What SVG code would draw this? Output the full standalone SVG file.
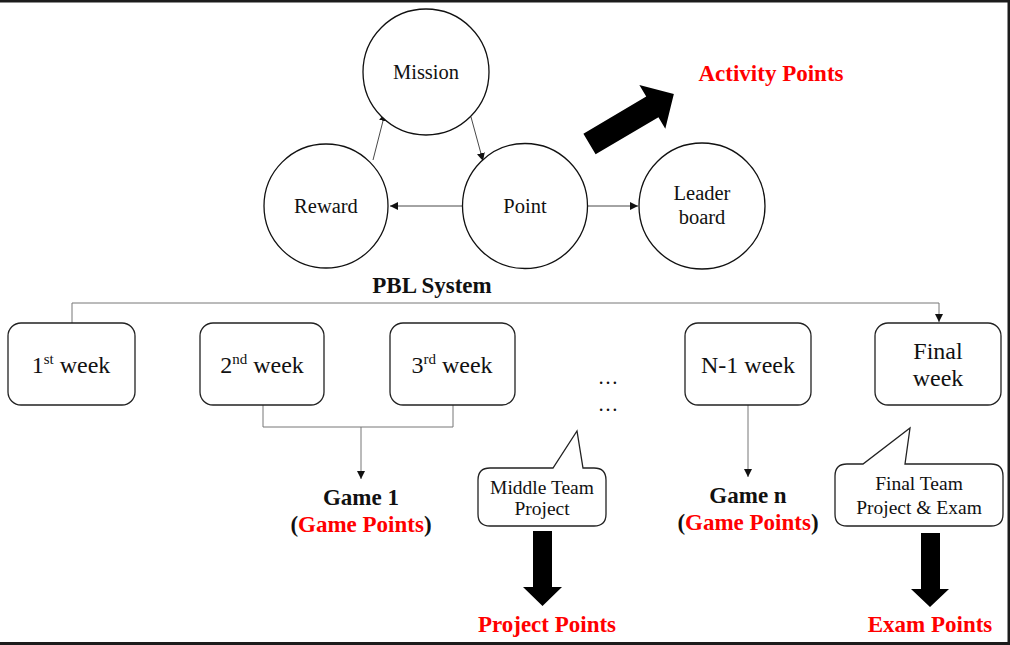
<svg xmlns="http://www.w3.org/2000/svg" width="1010" height="645" viewBox="0 0 1010 645">
<style>
.t{font-family:"Liberation Serif","Times New Roman",serif;fill:#111;text-anchor:middle}
.r{font-size:20.5px}
.w{font-size:24px}
.s{font-size:19.5px}
.b{font-size:23px;font-weight:bold}
.red{fill:#ff0000}
.circ{fill:#fff;stroke:#111;stroke-width:1.3}
.box{fill:#fff;stroke:#222;stroke-width:1.3}
.ln{fill:none;stroke:#333;stroke-width:0.9}
.gl{fill:none;stroke:#777;stroke-width:1}
.big{fill:#000}
</style>
<defs>
<marker id="ah" viewBox="0 0 10 10" refX="10" refY="5" markerWidth="8" markerHeight="8" markerUnits="userSpaceOnUse" orient="auto"><path d="M0,0 L10,5 L0,10 z" fill="#111"/></marker>
</defs>
<rect x="0" y="0" width="1010" height="645" fill="#fff"/>
<rect x="0" y="0" width="1010" height="2.5" fill="#1c1c1c"/>
<rect x="1007.5" y="0" width="2.5" height="645" fill="#1c1c1c"/>
<rect x="0" y="642" width="1010" height="3" fill="#1c1c1c"/>

<g id="connectors">
<line class="ln" x1="373" y1="160" x2="385" y2="113" marker-end="url(#ah)"/>
<line class="ln" x1="471" y1="117" x2="483" y2="161" marker-end="url(#ah)"/>
<line class="ln" x1="463" y1="206" x2="390" y2="206" marker-end="url(#ah)"/>
<line class="ln" x1="588" y1="206" x2="638" y2="206" marker-end="url(#ah)"/>
<polyline class="gl" points="72,324 72,303 939,303 939,322" marker-end="url(#ah)"/>
<polyline class="gl" points="263,405 263,427 453,427 453,405"/>
<line class="gl" x1="361" y1="427" x2="361" y2="479" marker-end="url(#ah)"/>
<line class="gl" x1="748" y1="405" x2="748" y2="477" marker-end="url(#ah)"/>
<polygon class="big" transform="translate(589.5,144) rotate(-30.6)" points="0,-12 73,-12 73,-25.5 98,0 73,25.5 73,12 0,12"/>
<polygon class="big" points="533,531 552,531 552,587 562,587 542.5,606 523,587 533,587"/>
<polygon class="big" points="921,533 940,533 940,589 949,589 930,607 911,589 921,589"/>
</g>

<g id="mission"><circle class="circ" cx="426" cy="72" r="63"/><text class="t r" x="426" y="79">Mission</text></g>
<g id="reward"><circle class="circ" cx="326" cy="206" r="62"/><text class="t r" x="326" y="213">Reward</text></g>
<g id="point"><circle class="circ" cx="525" cy="206" r="62.5"/><text class="t r" x="525" y="213">Point</text></g>
<g id="leaderboard"><circle class="circ" cx="702" cy="206" r="63"/><text class="t r" x="702" y="200">Leader</text><text class="t r" x="702" y="224">board</text></g>

<g id="activity-points"><text class="t b red" x="771" y="81">Activity Points</text></g>
<g id="pbl-system"><text class="t b" x="432" y="293">PBL System</text></g>

<g id="week1"><rect class="box" x="8" y="323" width="127" height="82" rx="13"/><text class="t w" x="71" y="373">1<tspan font-size="15" dy="-9">st</tspan><tspan dy="9"> week</tspan></text></g>
<g id="week2"><rect class="box" x="200" y="323" width="124" height="82" rx="13"/><text class="t w" x="262" y="373">2<tspan font-size="15" dy="-9">nd</tspan><tspan dy="9"> week</tspan></text></g>
<g id="week3"><rect class="box" x="390" y="323" width="125" height="82" rx="13"/><text class="t w" x="452" y="373">3<tspan font-size="15" dy="-9">rd</tspan><tspan dy="9"> week</tspan></text></g>
<g id="dots"><text class="t r" x="608" y="384">…</text><text class="t r" x="608" y="411">…</text></g>
<g id="weekN1"><rect class="box" x="685" y="323" width="126" height="82" rx="13"/><text class="t w" x="748" y="373">N-1 week</text></g>
<g id="final-week"><rect class="box" x="875" y="323" width="126" height="82" rx="13"/><text class="t w" x="938" y="359">Final</text><text class="t w" x="938" y="386">week</text></g>

<g id="game1"><text class="t b" x="361" y="505">Game 1</text><text class="t b" x="361" y="532">(<tspan class="red">Game Points</tspan>)</text></g>
<g id="gamen"><text class="t b" x="748" y="503">Game n</text><text class="t b" x="748" y="530">(<tspan class="red">Game Points</tspan>)</text></g>

<g id="middle-project"><path class="box" d="M490,468 L553,468 L577,431 L583,468 L594,468 Q606,468 606,480 L606,514 Q606,526 594,526 L490,526 Q478,526 478,514 L478,480 Q478,468 490,468 Z"/><text class="t s" x="542" y="494">Middle Team</text><text class="t s" x="542" y="515">Project</text></g>
<g id="final-project"><path class="box" d="M847,464 L863,464 L910,428 L905,464 L991,464 Q1003,464 1003,476 L1003,514 Q1003,526 991,526 L847,526 Q835,526 835,514 L835,476 Q835,464 847,464 Z"/><text class="t s" x="919" y="490">Final Team</text><text class="t s" x="919" y="514">Project &amp; Exam</text></g>

<g id="project-points"><text class="t b red" x="547" y="632">Project Points</text></g>
<g id="exam-points"><text class="t b red" x="930" y="632">Exam Points</text></g>
</svg>
